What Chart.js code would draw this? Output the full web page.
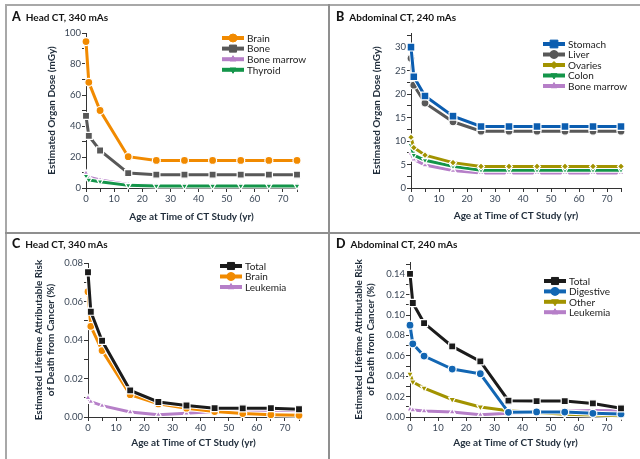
<!DOCTYPE html>
<html>
<head>
<meta charset="utf-8">
<script src="https://cdn.jsdelivr.net/npm/chart.js@4"></script>
<style>
  html, body { margin: 0; padding: 0; background: #fff; }
  body { width: 640px; height: 459px; position: relative; overflow: hidden; font-family: Lato, "Open Sans", sans-serif; }
  .panel { position: absolute; width: 310px; height: 226px; }
  .panel canvas { position: absolute; left: 0; top: 0; }
  .ttl { position: absolute; font-weight: bold; font-size: 10px; color: #141414; white-space: nowrap; }
  .ttl b { font-size: 12.5px; margin-right: 5px; }
  .rule { position: absolute; background: #a8a8a8; }
</style>
</head>
<body>
<div class="rule" style="left:5px;top:4px;width:635px;height:2px;"></div>
<div class="rule" style="left:5px;top:4px;width:2px;height:455px;"></div>
<div class="rule" style="left:328px;top:4px;width:2px;height:455px;background:#8f8f8f;"></div>
<div class="rule" style="left:5px;top:232px;width:635px;height:2px;background:#8f8f8f;"></div>

<div class="panel" style="left:0;top:0;"><canvas id="chartA" width="310" height="226"></canvas></div>
<div class="panel" style="left:330px;top:0;"><canvas id="chartB" width="310" height="226"></canvas></div>
<div class="panel" style="left:0;top:233px;"><canvas id="chartC" width="310" height="226"></canvas></div>
<div class="panel" style="left:330px;top:233px;"><canvas id="chartD" width="310" height="226"></canvas></div>

<div class="ttl" style="left:12px;top:9px;"><b>A</b>Head CT, 340 mAs</div>
<div class="ttl" style="left:336px;top:9px;"><b>B</b>Abdominal CT, 240 mAs</div>
<div class="ttl" style="left:12px;top:236px;"><b>C</b>Head CT, 340 mAs</div>
<div class="ttl" style="left:336px;top:236px;"><b>D</b>Abdominal CT, 240 mAs</div>

<script>
// ---- data ----
const ages = [0, 1, 5, 15, 25, 35, 45, 55, 65, 75];

// A: head CT organ dose (mGy)
const headBrainDose = [94.5, 68.2, 50, 20.2, 17.8, 17.8, 17.8, 17.8, 17.8, 17.8];
const headBoneDose = [46.5, 33.6, 24.2, 9.6, 8.6, 8.6, 8.6, 8.6, 8.6, 8.6];
const headMarrowDose = [9.6, 6.9, 5.2, 2.3, 1.6, 1.6, 1.6, 1.6, 1.6, 1.6];
const headThyroidDose = [7.7, 5.2, 4.1, 1.7, 1.3, 1.3, 1.3, 1.3, 1.3, 1.3];

// B: abdominal CT organ dose (mGy)
const abdStomachDose = [30.0, 23.7, 19.6, 15.3, 13.1, 13.1, 13.1, 13.1, 13.1, 13.1];
const abdLiverDose = [27.6, 21.9, 18.1, 14.1, 12.1, 12.1, 12.1, 12.1, 12.1, 12.1];
const abdOvariesDose = [10.8, 8.6, 7.0, 5.4, 4.6, 4.6, 4.6, 4.6, 4.6, 4.6];
const abdColonDose = [9.1, 7.0, 5.9, 4.6, 3.8, 3.8, 3.8, 3.8, 3.8, 3.8];
const abdMarrowDose = [7.4, 6.1, 4.9, 3.7, 3.2, 3.2, 3.2, 3.2, 3.2, 3.2];

// C: head CT lifetime attributable risk (%)
const headTotalRisk = [0.0752, 0.0547, 0.0396, 0.0138, 0.0078, 0.0060, 0.0046, 0.0045, 0.0046, 0.0040];
const headBrainRisk = [0.0651, 0.0471, 0.0345, 0.0116, 0.0068, 0.0046, 0.0028, 0.0018, 0.0012, 0.0009];
const headLeukRisk = [0.0100, 0.0080, 0.0059, 0.0026, 0.0012, 0.0019, 0.0029, 0.0033, 0.0036, 0.0033];

// D: abdominal CT lifetime attributable risk (%)
const abdTotalRisk = [0.1403, 0.1118, 0.0921, 0.0692, 0.0545, 0.0160, 0.0156, 0.0156, 0.0133, 0.0085];
const abdDigestiveRisk = [0.0900, 0.0718, 0.0597, 0.0470, 0.0424, 0.0046, 0.0050, 0.0048, 0.0036, 0.0030];
const abdOtherRisk = [0.0421, 0.0343, 0.0284, 0.0172, 0.0098, 0.0062, 0.0044, 0.0026, 0.0020, 0.0013];
const abdLeukRisk = [0.0076, 0.0068, 0.0059, 0.0049, 0.0023, 0.0036, 0.0047, 0.0057, 0.0063, 0.0061];

const xTitle = 'Age at Time of CT Study (yr)';
const doseTitle = 'Estimated Organ Dose (mGy)';
const riskTitle = ['Estimated Lifetime Attributable Risk', 'of Death from Cancer (%)'];

// ---- colours ----
const ORANGE = '#f18a00';
const GREY = '#585858';
const PURPLE = '#b67fc8';
const GREEN = '#14954a';
const BLUE = '#0b5db0';
const BLUE2 = '#1266b3';
const OLIVE = '#a29300';
const BLACK = '#1b1b1b';
const TITLE_COL = '#1f2c3a';
const TICK_COL = '#3b4757';

const FONT = 'Lato, "Open Sans", sans-serif';

// white outline under every line, like the print version
const lineHalo = {
    id: 'lineHalo',
    beforeDatasetDraw(chart, args) {
        const ctx = chart.ctx;
        const pts = args.meta.data;
        if (!pts.length) return;
        ctx.save();
        ctx.strokeStyle = '#fff';
        ctx.lineWidth = (chart.data.datasets[args.index].borderWidth || 3) + 2;
        ctx.lineJoin = 'round';
        ctx.beginPath();
        pts.forEach((p, i) => (i ? ctx.lineTo(p.x, p.y) : ctx.moveTo(p.x, p.y)));
        ctx.stroke();
        ctx.restore();
    }
};

// ---- legend drawn inside plot ----
const inlineLegend = {
    id: 'inlineLegend',
    afterDatasetsDraw(chart, args, opts) {
        const ctx = chart.ctx;
        chart.data.datasets.forEach((ds, i) => {
            const y = opts.y + i * opts.rowH;
            ctx.save();
            ctx.strokeStyle = ds.borderColor;
            ctx.lineWidth = 4;
            ctx.beginPath();
            ctx.moveTo(opts.x, y);
            ctx.lineTo(opts.x + 22, y);
            ctx.stroke();
            ctx.fillStyle = ds.backgroundColor;
            ctx.strokeStyle = ds.borderColor;
            ctx.lineWidth = 1;
            Chart.helpers.drawPoint(ctx, {
                pointStyle: ds.pointStyle,
                radius: ds.pointRadius,
                rotation: ds.pointRotation || 0,
                borderWidth: 1
            }, opts.x + 11, y);
            ctx.fillStyle = '#222';
            ctx.font = '10px ' + FONT;
            ctx.textBaseline = 'middle';
            ctx.fillText(ds.label, opts.x + 25, y + 0.5);
            ctx.restore();
        });
    }
};

function series(label, data, color, style, radius, rotation, order) {
    return {
        label: label,
        data: ages.map((a, i) => ({ x: a, y: data[i] })),
        borderColor: color,
        backgroundColor: color,
        borderWidth: 3,
        pointStyle: style,
        pointRadius: radius,
        pointRotation: rotation || 0,
        pointBorderColor: '#fff',
        pointBorderWidth: 1.2,
        pointBackgroundColor: color,
        order: order || 0,
        clip: false
    };
}

function makeChart(id, datasets, box, yOpts, legend) {
    new Chart(document.getElementById(id), {
        type: 'line',
        data: { datasets: datasets },
        plugins: [lineHalo, inlineLegend],
        options: {
            responsive: false,
            animation: false,
            events: [],
            layout: { padding: { left: 0, top: box.top, right: 310 - box.right, bottom: 0 } },
            plugins: {
                legend: { display: false },
                tooltip: { enabled: false },
                inlineLegend: legend
            },
            scales: {
                x: {
                    type: 'linear',
                    min: 0,
                    max: 75,
                    border: { color: '#333', width: 1 },
                    grid: { drawOnChartArea: false, tickLength: 4, color: '#333' },
                    ticks: {
                        stepSize: 5,
                        autoSkip: false,
                        maxRotation: 0,
                        padding: 1,
                        color: TICK_COL,
                        font: { family: FONT, size: 9.5 },
                        callback: v => (v % 10 === 0 ? String(v) : '')
                    },
                    title: {
                        display: true,
                        text: xTitle,
                        color: TITLE_COL,
                        font: { family: FONT, size: 10, weight: 'bold' },
                        padding: { top: 0, bottom: box.xTitlePad }
                    },
                    afterFit: s => { s.height = 226 - box.bottom; }
                },
                y: {
                    type: 'linear',
                    min: 0,
                    max: yOpts.max,
                    border: { color: '#333', width: 1 },
                    grid: { drawOnChartArea: false, tickLength: 4, color: '#333' },
                    ticks: {
                        stepSize: yOpts.step,
                        includeBounds: false,
                        autoSkip: false,
                        padding: 1,
                        color: TICK_COL,
                        font: { family: FONT, size: 9.5 },
                        callback: yOpts.label
                    },
                    title: {
                        display: true,
                        text: yOpts.title,
                        color: TITLE_COL,
                        font: { family: FONT, size: 10, weight: 'bold' },
                        padding: { top: box.yTitlePad, bottom: 0 }
                    },
                    afterFit: s => { s.width = box.left; }
                }
            }
        }
    });
}

const doseLabel = major => v => (Math.abs(v / major - Math.round(v / major)) < 1e-6 ? String(Math.round(v)) : '');
const riskLabel = v => (Math.round(v * 100) % 2 === 0 ? v.toFixed(2) : '');

makeChart('chartA', [
    series('Brain', headBrainDose, ORANGE, 'circle', 4),
    series('Bone', headBoneDose, GREY, 'rect', 5),
    series('Bone marrow', headMarrowDose, PURPLE, 'triangle', 3.5, 0, 1),
    series('Thyroid', headThyroidDose, GREEN, 'triangle', 3.5, 180)
], { left: 86, right: 297, top: 33, bottom: 188, xTitlePad: 3, yTitlePad: 46 },
   { max: 100, step: 10, title: doseTitle, label: doseLabel(20) },
   { x: 222, y: 38, rowH: 10.6 });

makeChart('chartB', [
    series('Stomach', abdStomachDose, BLUE, 'rect', 5.5),
    series('Liver', abdLiverDose, GREY, 'circle', 4),
    series('Ovaries', abdOvariesDose, OLIVE, 'rectRot', 3.5),
    series('Colon', abdColonDose, GREEN, 'triangle', 3.5, 180),
    series('Bone marrow', abdMarrowDose, PURPLE, 'triangle', 3.5)
], { left: 81, right: 291, top: 33, bottom: 188, xTitlePad: 4, yTitlePad: 41 },
   { max: 33, step: 2.5, title: doseTitle, label: doseLabel(5) },
   { x: 213, y: 44, rowH: 10.5 });

makeChart('chartC', [
    series('Total', headTotalRisk, BLACK, 'rect', 5),
    series('Brain', headBrainRisk, ORANGE, 'circle', 4),
    series('Leukemia', headLeukRisk, PURPLE, 'triangle', 3.5)
], { left: 88, right: 299, top: 30, bottom: 184, xTitlePad: 10, yTitlePad: 33 },
   { max: 0.08, step: 0.01, title: riskTitle, label: riskLabel },
   { x: 220, y: 33, rowH: 10.5 });

makeChart('chartD', [
    series('Total', abdTotalRisk, BLACK, 'rect', 5),
    series('Digestive', abdDigestiveRisk, BLUE2, 'circle', 4),
    series('Other', abdOtherRisk, OLIVE, 'triangle', 4, 180),
    series('Leukemia', abdLeukRisk, PURPLE, 'triangle', 3.5)
], { left: 80, right: 291, top: 29, bottom: 184, xTitlePad: 10, yTitlePad: 23 },
   { max: 0.152, step: 0.01, title: riskTitle, label: riskLabel },
   { x: 214, y: 48, rowH: 10.4 });
</script>
</body>
</html>
